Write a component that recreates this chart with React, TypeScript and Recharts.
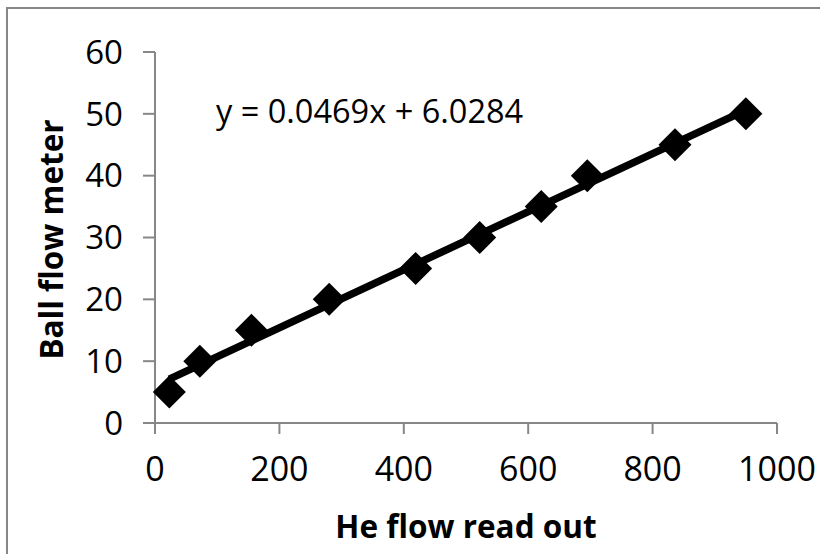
import { ScatterChart, Scatter, XAxis, YAxis } from 'recharts'

// readings: He flow controller read-out vs ball flow meter
const heFlowReadOut = [23, 72, 155, 280, 419, 522, 621, 695, 836, 950]
const ballFlowMeter = [5, 10, 15, 20, 25, 30, 35, 40, 45, 50]
const xTicks = [0, 200, 400, 600, 800, 1000]
const yTicks = [0, 10, 20, 30, 40, 50, 60]

// linear trendline as reported on the chart
const trendSlope = 0.0469
const trendIntercept = 6.0284

const points = heFlowReadOut.map((x, i) => ({ x, y: ballFlowMeter[i] }))
const xMin = Math.min(...heFlowReadOut)
const xMax = Math.max(...heFlowReadOut)
const trend = [xMin, xMax].map(x => ({ x, y: trendSlope * x + trendIntercept }))

const FONT = '"Open Sans", sans-serif'
const AXIS = '#878787'

const Diamond = (props: any) => {
  const { cx, cy } = props
  const r = 16.5
  return <polygon points={`${cx},${cy - r} ${cx + r},${cy} ${cx},${cy + r} ${cx - r},${cy}`} fill="#000" />
}

const NoDot = () => <g />

const App = () => {
  return (
    <div style={{ position: 'absolute', left: 0, top: 0, width: 820, height: 554, overflow: 'hidden', background: '#fff' }}>
      <div style={{ position: 'absolute', left: 6, top: 7, width: 900, height: 700, border: `2px solid ${AXIS}` }} />
      <div style={{ position: 'absolute', left: 0, top: 0 }}>
        <ScatterChart width={820} height={554} margin={{ top: 52, right: 43, bottom: 31, left: 0 }}>
          <XAxis
            type="number"
            dataKey="x"
            domain={[0, 1000]}
            ticks={xTicks}
            height={100}
            stroke={AXIS}
            strokeWidth={2}
            tickSize={11}
            tickMargin={23}
            tick={{ fill: '#000', fontSize: 34, fontFamily: FONT }}
            tickLine={{ stroke: AXIS, strokeWidth: 2 }}
            label={(p: any) => (
              <text x={p.viewBox.x + p.viewBox.width / 2} y={538} textAnchor="middle" fontFamily={FONT} fontWeight="bold" fontSize={31.5} fill="#000">
                He flow read out
              </text>
            )}
          />
          <YAxis
            type="number"
            dataKey="y"
            domain={[0, 60]}
            ticks={yTicks}
            width={155}
            stroke={AXIS}
            strokeWidth={2}
            tickSize={12}
            tickMargin={20}
            tick={{ fill: '#000', fontSize: 33, fontFamily: FONT }}
            tickLine={{ stroke: AXIS, strokeWidth: 2 }}
            label={(p: any) => {
              const cy = p.viewBox.y + p.viewBox.height / 2 + 2
              return (
                <text x={50} y={cy} transform={`rotate(-90 50 ${cy})`} textAnchor="middle" dominantBaseline="central" fontFamily={FONT} fontWeight="bold" fontSize={31.5} fill="#000">
                  Ball flow meter
                </text>
              )
            }}
          />
          <Scatter data={trend} line={{ stroke: '#000', strokeWidth: 7.5 }} shape={NoDot} isAnimationActive={false} />
          <Scatter data={points} shape={Diamond} isAnimationActive={false} />
        </ScatterChart>
      </div>
      <div style={{ position: 'absolute', left: 216, top: 89, fontFamily: FONT, fontSize: 32.5, lineHeight: '44px', color: '#000', whiteSpace: 'nowrap' }}>
        {`y = ${trendSlope}x + ${trendIntercept}`}
      </div>
    </div>
  )
}

export default App
